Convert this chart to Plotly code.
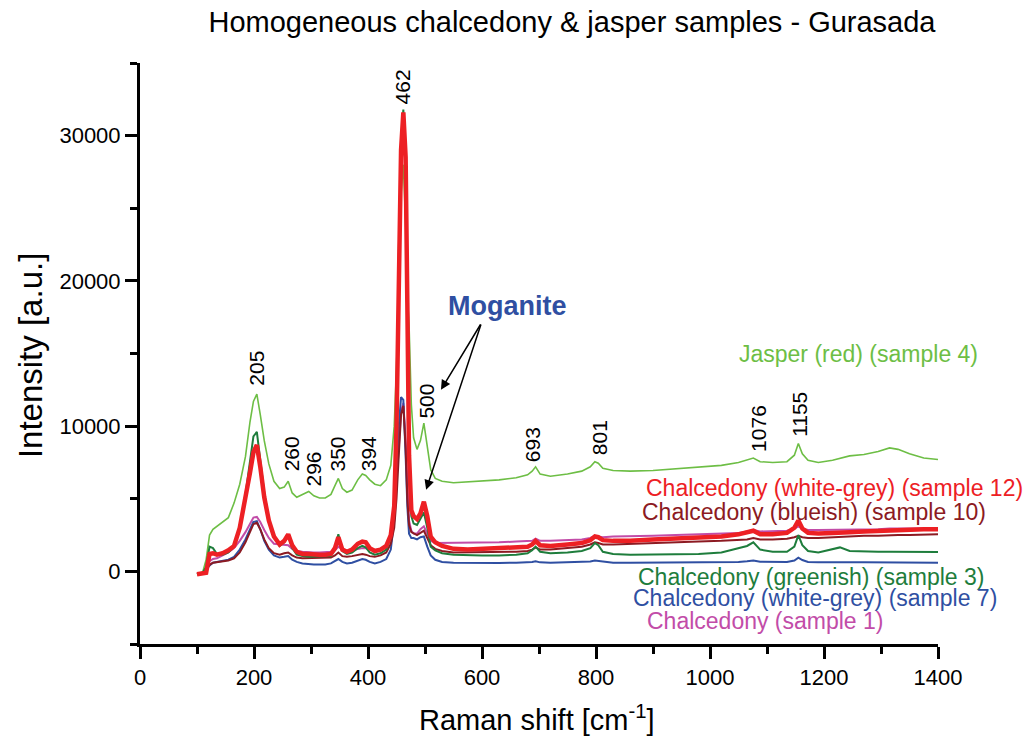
import plotly.graph_objects as go

# Raman shift grid (cm-1)
X = [100, 110, 116, 122, 128, 135, 145, 155, 165, 175, 185, 193, 199, 205, 211, 218, 226, 235, 245, 253,
     260, 267, 275, 285, 296, 305, 315, 325, 335, 342, 348, 355, 363, 372, 382, 390, 396, 403, 412, 422,
     432, 440, 446, 450, 454, 458, 462, 466, 469, 472, 476, 480, 486, 492, 498, 504, 510, 518, 530, 550,
     575, 600, 630, 660, 680, 688, 694, 702, 720, 750, 775, 790, 798, 804, 812, 830, 860, 900, 940, 980,
     1020, 1050, 1065, 1076, 1088, 1110, 1135, 1148, 1155, 1162, 1172, 1190, 1215, 1228, 1245, 1270, 1295, 1315, 1330, 1350,
     1375, 1400]

jasper_4 = [-200, -50, 800, 2500, 2900, 3100, 3400, 3700, 4700, 6000, 7900, 10300, 11700, 12200, 10800, 9000, 7400, 6200, 5700, 5800,
            6200, 5400, 5100, 5300, 5500, 5200, 5050, 5050, 5300, 5900, 6400, 5700, 5450, 5600, 6300, 6700, 6600, 6300, 6000, 5900,
            6300, 7300, 10000, 14000, 20000, 26000, 28000, 24000, 19000, 17000, 11500, 9200, 8400, 9000, 10200, 8600, 7000, 6400, 6200, 6100,
            6150, 6200, 6300, 6450, 6650, 6900, 7200, 6700, 6550, 6700, 6900, 7200, 7550, 7450, 7100, 6950, 6900, 6950, 7050, 7150,
            7300, 7500, 7650, 7800, 7550, 7500, 7550, 8000, 8800, 8100, 7650, 7500, 7650, 7800, 7950, 8050, 8250, 8500, 8400, 8100,
            7800, 7700]

chal_1 = [-200, -150, -50, 700, 850, 900, 1100, 1300, 1600, 2100, 2700, 3300, 3700, 3750, 3400, 2850, 2300, 1900, 1850, 1850,
          1800, 1550, 1400, 1350, 1300, 1300, 1300, 1300, 1350, 1450, 1700, 1500, 1400, 1450, 1550, 1600, 1600, 1500, 1450, 1550,
          1800, 2600, 4000, 6000, 8500, 11000, 11600, 9000, 5500, 3500, 2800, 2600, 2600, 2900, 3100, 2600, 2100, 1950, 1950, 1950,
          1950, 2000, 2000, 2050, 2050, 2100, 2250, 2100, 2100, 2150, 2200, 2300, 2450, 2400, 2350, 2400, 2400, 2450, 2500, 2550,
          2600, 2650, 2750, 2850, 2750, 2750, 2800, 2950, 3100, 2950, 2850, 2850, 2850, 2900, 2900, 2900, 2900, 2950, 2950, 2950,
          2950, 2950]

chal_7 = [-150, -100, 100, 400, 600, 650, 700, 800, 1000, 1500, 2200, 2900, 3400, 3450, 2900, 2100, 1500, 1100, 950, 1000,
          1050, 800, 650, 550, 500, 480, 480, 480, 550, 700, 850, 650, 550, 600, 750, 850, 800, 650, 550, 650,
          850, 1500, 3500, 6500, 10000, 12000, 11800, 8000, 4500, 2600, 2300, 2300, 2200, 2350, 2400, 1700, 1100, 800, 650, 600,
          580, 580, 580, 600, 620, 650, 700, 620, 600, 620, 650, 680, 750, 720, 650, 600, 600, 600, 620, 620,
          640, 650, 700, 750, 660, 650, 650, 750, 950, 780, 650, 620, 640, 660, 630, 620, 610, 610, 600, 600,
          600, 600]

chal_10 = [-200, -100, 200, 450, 600, 650, 700, 750, 900, 1300, 2000, 2700, 3250, 3350, 2900, 2200, 1600, 1250, 1150, 1250,
           1300, 1100, 950, 900, 900, 900, 900, 900, 950, 1100, 1300, 1050, 1000, 1050, 1150, 1200, 1150, 1050, 1000, 1100,
           1300, 1900, 3000, 5000, 8000, 10800, 11400, 8500, 5000, 3200, 2700, 2600, 2500, 2650, 2800, 2300, 1800, 1550, 1400, 1300,
           1300, 1300, 1300, 1350, 1400, 1500, 1650, 1500, 1500, 1600, 1700, 1850, 2000, 1950, 1850, 1850, 1900, 1950, 2000, 2050,
           2100, 2150, 2200, 2300, 2200, 2200, 2250, 2350, 2450, 2350, 2300, 2300, 2350, 2400, 2400, 2450, 2450, 2500, 2500, 2500,
           2550, 2550]

chal_3 = [-200, -100, 300, 1700, 1600, 1200, 1150, 1300, 1700, 3100, 5300, 7700, 9300, 9600, 7800, 5400, 3600, 2400, 1750, 2000,
          2500, 1600, 1150, 1050, 1000, 1000, 1000, 1000, 1050, 1500, 2550, 1400, 1200, 1300, 1600, 1750, 1650, 1300, 1150, 1250,
          1500, 2300, 4500, 10500, 22000, 29500, 31800, 28500, 18000, 7500, 3800, 3300, 3200, 3600, 4050, 3000, 1700, 1450, 1250, 1150,
          1100, 1100, 1100, 1150, 1250, 1450, 1700, 1350, 1250, 1300, 1400, 1600, 1950, 1800, 1350, 1200, 1150, 1150, 1150, 1200,
          1300, 1600, 1750, 2000, 1500, 1350, 1350, 1700, 2500, 1800, 1400, 1300, 1500, 1650, 1400, 1350, 1350, 1350, 1350, 1330,
          1330, 1330]

chal_12 = [-200, -150, -100, 1200, 1250, 1150, 1250, 1450, 1750, 3000, 4900, 6800, 8200, 8700, 7200, 5100, 3500, 2400, 1850, 2100,
           2550, 1800, 1350, 1200, 1200, 1150, 1150, 1150, 1200, 1600, 2350, 1500, 1350, 1500, 1900, 2050, 2000, 1600, 1400, 1500,
           1750, 2500, 4500, 10000, 21000, 29000, 31600, 28500, 18500, 8000, 4200, 3800, 3600, 4000, 4800, 3800, 2400, 2000, 1750, 1550,
           1500, 1550, 1550, 1600, 1700, 1850, 2100, 1800, 1750, 1850, 1950, 2150, 2400, 2350, 2150, 2100, 2100, 2200, 2250, 2300,
           2400, 2550, 2700, 2800, 2550, 2550, 2650, 3000, 3500, 2950, 2650, 2600, 2650, 2700, 2700, 2750, 2800, 2850, 2850, 2850,
           2900, 2900]

# Peak labels (wavenumber text, x position, y position)
peak_text = ["205", "260", "296", "350", "394", "462", "500", "693", "801", "1076", "1155"]
peak_x = [203, 265, 304, 346, 400, 461, 502, 690, 806, 1086, 1158]
peak_y = [14000, 8060, 7030, 8060, 8060, 33370, 11700, 8710, 9200, 9810, 10780]

# Sample labels
label_text = ["Jasper (red) (sample 4)", "Chalcedony (white-grey) (sample 12)",
              "Chalcedony (blueish) (sample 10)", "Chalcedony (greenish) (sample 3)",
              "Chalcedony (white-grey) (sample 7)", "Chalcedony (sample 1)"]
label_x = [1260, 1219, 1182, 1177, 1184, 1098]
label_y = [14970, 5760, 4110, -360, -1810, -3390]

C_JASPER = "#6dbe45"
C_RED = "#ed2024"
C_DRED = "#8c1a22"
C_DGREEN = "#1e7d3c"
C_BLUE = "#2f4fa2"
C_MAG = "#c24ca8"
label_colors = [C_JASPER, C_RED, C_DRED, C_DGREEN, C_BLUE, C_MAG]

FONT = "Liberation Sans, Arial, sans-serif"

series = [
    ("Jasper (red) (sample 4)", jasper_4, C_JASPER, 1.6),
    ("Chalcedony (sample 1)", chal_1, C_MAG, 2.0),
    ("Chalcedony (white-grey) (sample 7)", chal_7, C_BLUE, 2.0),
    ("Chalcedony (blueish) (sample 10)", chal_10, C_DRED, 2.0),
    ("Chalcedony (greenish) (sample 3)", chal_3, C_DGREEN, 2.0),
    ("Chalcedony (white-grey) (sample 12)", chal_12, C_RED, 4.5),
]

fig = go.Figure()
for name, ys, col, w in series:
    assert len(ys) == len(X), name
    fig.add_trace(go.Scatter(x=X, y=ys, mode="lines", name=name,
                             line=dict(color=col, width=w), showlegend=False))

annotations = []
for t, x, y in zip(peak_text, peak_x, peak_y):
    annotations.append(dict(x=x, y=y, xref="x", yref="y", text=t, showarrow=False,
                            textangle=-90, font=dict(family=FONT, size=21, color="black"),
                            xanchor="center", yanchor="middle"))
for t, x, y, c in zip(label_text, label_x, label_y, label_colors):
    annotations.append(dict(x=x, y=y, xref="x", yref="y", text=t, showarrow=False,
                            font=dict(family=FONT, size=23, color=c),
                            xanchor="center", yanchor="middle"))
# Moganite label and arrows
annotations.append(dict(x=644, y=18270, xref="x", yref="y", text="<b>Moganite</b>", showarrow=False,
                        font=dict(family=FONT, size=27, color=C_BLUE), xanchor="center", yanchor="middle"))
for hx, hy in [(528, 12500), (502, 5620)]:
    annotations.append(dict(x=hx, y=hy, xref="x", yref="y", ax=599, ay=17100, axref="x", ayref="y",
                            text="", showarrow=True, arrowhead=2, arrowsize=1.3, arrowwidth=1.5,
                            arrowcolor="black"))
# Axis titles
annotations.append(dict(x=0.4975, y=-0.127, xref="paper", yref="paper",
                        text="Raman shift [cm<sup>-1</sup>]", showarrow=False,
                        font=dict(family=FONT, size=29, color="black"),
                        xanchor="center", yanchor="middle"))
annotations.append(dict(x=-0.138, y=0.497, xref="paper", yref="paper",
                        text="Intensity [a.u.]", showarrow=False, textangle=-90,
                        font=dict(family=FONT, size=33, color="black"),
                        xanchor="center", yanchor="middle"))

axis_common = dict(showline=True, linecolor="black", linewidth=3, ticks="outside",
                   ticklen=12, tickwidth=2.5, tickcolor="black", showgrid=False, zeroline=False,
                   tickfont=dict(family=FONT, size=22, color="black"))

fig.update_layout(
    width=1030, height=740,
    margin=dict(l=140, r=92, t=63, b=96),
    paper_bgcolor="white", plot_bgcolor="white",
    title=dict(text="Homogeneous chalcedony & jasper samples - Gurasada",
               x=572 / 1030, xref="container", xanchor="center",
               y=1 - 22 / 740, yref="container", yanchor="middle",
               font=dict(family=FONT, size=29, color="black")),
    xaxis=dict(range=[0, 1400], tick0=0, dtick=200,
               minor=dict(ticks="outside", ticklen=7, tickwidth=2.5, tickcolor="black", dtick=100),
               **axis_common),
    yaxis=dict(range=[-5000, 35000], tick0=0, dtick=10000, tickformat="d",
               minor=dict(ticks="outside", ticklen=7, tickwidth=2.5, tickcolor="black", dtick=5000),
               **axis_common),
    annotations=annotations,
)

fig.write_html("out.html")
